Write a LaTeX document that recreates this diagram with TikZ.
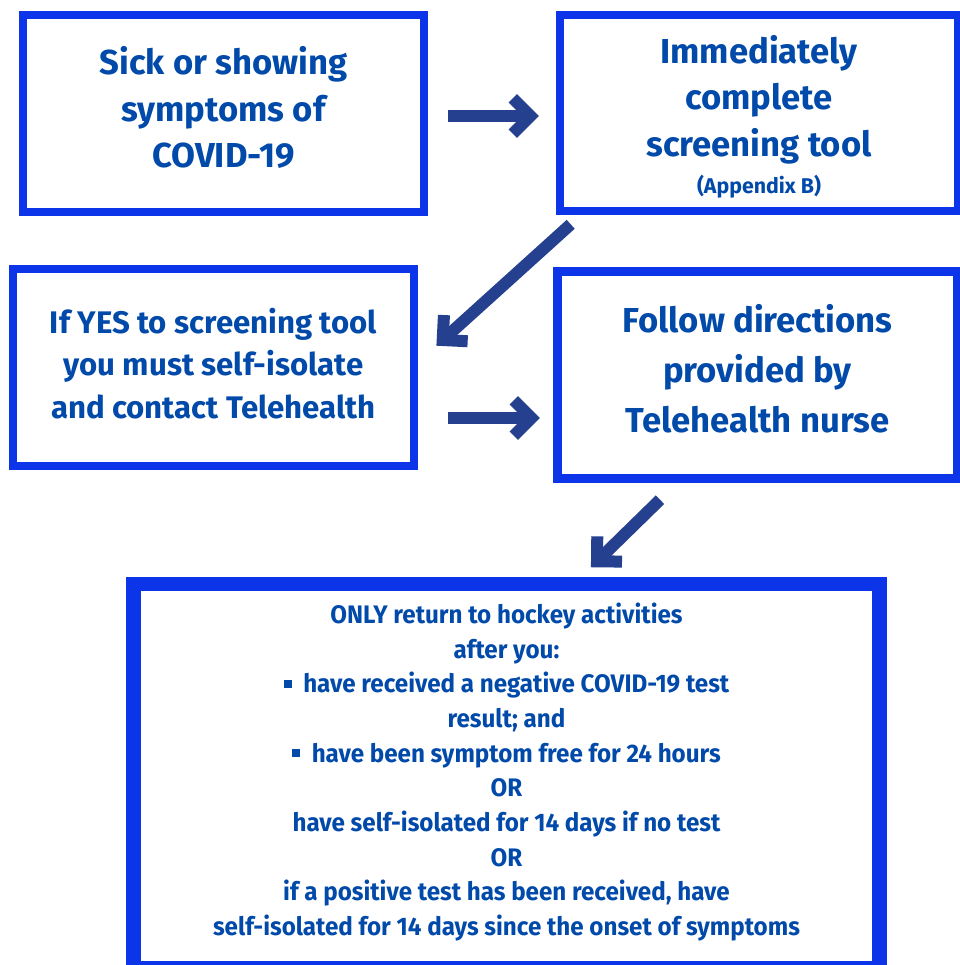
\documentclass[tikz,border=0pt]{standalone}
\usepackage{fontspec}
\setmainfont{Fira Sans}
\newfontfamily\condf[FakeStretch=0.955]{Fira Sans}
\usetikzlibrary{calc}
\definecolor{boxblue}{RGB}{12,52,232}
\definecolor{arrowblue}{RGB}{36,64,142}
\definecolor{textblue}{RGB}{2,74,170}
\tikzset{
  box/.style={draw=boxblue, fill=white, line width=6pt, rectangle, inner sep=0pt},
  txt/.style={align=center, text=textblue, inner sep=0pt},
  arrowline/.style={draw=arrowblue, line width=9pt, line cap=butt},
  arrowhd/.style={draw=arrowblue, line width=9pt, line cap=butt, line join=miter},
}
\newcommand\fatarrow[2]{%
  \draw[arrowline] (#1) -- (#2);
  \draw[arrowhd] ($(#2)!18.75pt!45:(#1)$) -- (#2) -- ($(#2)!18.75pt!-45:(#1)$);
}
\newcommand\bul{\rule[0.2em]{0.32em}{0.32em}}
\begin{document}
\begin{tikzpicture}[x=0.75pt, y=-0.75pt]
\fill[white] (0,0) rectangle (960,965);
\useasboundingbox (0,0) rectangle (960,965);

\node[box, minimum width=300.75pt, minimum height=147.75pt] (b1) at (223.5,113.5) {};
\node[txt, font=\fontsize{26}{35}\selectfont\bfseries] (t1) at (223.5,107.5)
  {Sick or showing\\symptoms of\\COVID-19};

\node[box, minimum width=298.5pt, minimum height=147pt] (b2) at (759,113) {};
\node[txt, font=\fontsize{26}{35}\selectfont\bfseries] (t2) at (759,116.5)
  {Immediately\\complete\\screening tool\\[-7.5pt]{\fontsize{16}{20}\selectfont (Appendix B)}};

\node[box, minimum width=300.75pt, minimum height=147.75pt] (b3) at (213.5,367.5) {};
\node[txt, font=\fontsize{23.4}{32}\selectfont\bfseries] (t3) at (213.5,363.5)
  {If YES to screening tool\\you must self-isolate\\and contact Telehealth};

\node[box, line width=6.75pt, minimum width=300pt, minimum height=155.25pt] (b4) at (757.5,375) {};
\node[txt, font=\fontsize{26}{37.5}\selectfont\bfseries] (t4) at (757.5,368.5)
  {Follow directions\\provided by\\Telehealth nurse};

\node[box, line width=11pt, minimum width=559.8pt, minimum height=288pt] (b5) at (506.5,776) {};
\node[txt, font=\condf\fontsize{19}{26}\selectfont\bfseries] (t5) at (506.5,772)
  {ONLY return to hockey activities\\after you:\\
   \bul\ \ have received a negative COVID-19 test\\result; and\\
   \bul\ \ have been symptom free for 24 hours\\OR\\
   have self-isolated for 14 days if no test\\OR\\
   if a positive test has been received, have\\
   self-isolated for 14 days since the onset of symptoms};

\coordinate (a1s) at (448,116);
\coordinate (a1t) at (530.5,116);
\coordinate (a2s) at (570.7,224.3);
\coordinate (a2t) at (442.7,340);
\coordinate (a3s) at (448,418);
\coordinate (a3t) at (531.5,418);
\coordinate (a4s) at (660,499.7);
\coordinate (a4t) at (597,561.3);

\fatarrow{a1s}{a1t}
\fatarrow{a2s}{a2t}
\fatarrow{a3s}{a3t}
\fatarrow{a4s}{a4t}
\end{tikzpicture}
\end{document}
